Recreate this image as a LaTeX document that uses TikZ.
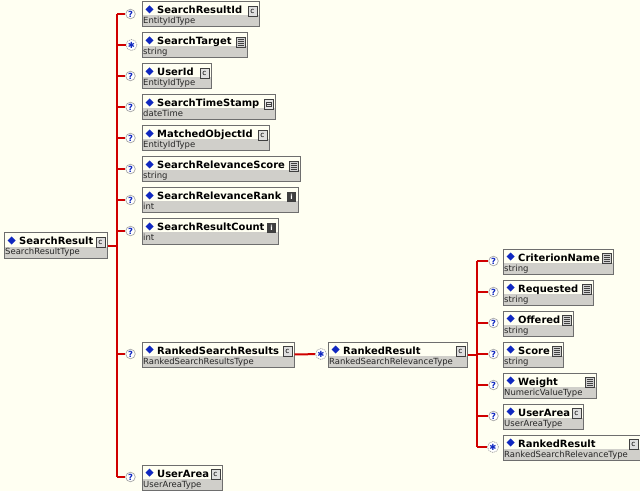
\documentclass[tikz,border=0pt]{standalone}
\usepackage{fontspec}
\setmainfont{DejaVu Sans}
\usetikzlibrary{calc}

\definecolor{bgcol}{HTML}{FFFFF2}
\definecolor{linkred}{HTML}{D00000}
\definecolor{typegray}{HTML}{D0CFCA}
\definecolor{boxedge}{HTML}{6E6E6E}
\definecolor{markblue}{HTML}{1028C0}
\definecolor{icondark}{HTML}{404040}

\tikzset{
  elembox/.style={draw=boxedge, line width=1bp, rectangle, inner sep=0pt,
    minimum height=25bp, anchor=north west},
  namelabel/.style={anchor=base west, inner sep=0pt,
    font=\fontsize{10}{12}\selectfont\bfseries},
  typelabel/.style={anchor=base west, inner sep=0pt,
    font=\fontsize{8.5}{10}\selectfont, text=black!85},
  link/.style={draw=linkred, line width=2bp},
  opticon/.style={circle, draw=gray!70, fill=white, line width=0.7bp,
    minimum size=9.5bp, inner sep=0pt,
    font=\fontsize{8.5}{9}\selectfont\bfseries, text=markblue},
  manyicon/.style={opticon, dash pattern=on 1.2bp off 0.8bp, minimum size=11bp,
    font=\fontsize{8.5}{9}\selectfont\bfseries},
  iconframe/.style={draw=icondark, line width=0.6bp},
}

% type icons, #1 = element id, #2/#3 = top-left corner of the 9x10 icon
\newcommand\iconc[3]{%
  \filldraw[iconframe, fill=gray!25] ({#2},{#3}) rectangle ({#2+9},{#3+10});
  \node[inner sep=0pt, font=\fontsize{7.5}{7.5}\selectfont] (#1-icon)
    at ({#2+4.5},{#3+5.3}) {c};
}
\newcommand\iconstr[3]{%
  \filldraw[iconframe, fill=gray!35] ({#2},{#3}) rectangle ({#2+9},{#3+10});
  \foreach \yy in {2.5,4.5,6.5,8.5}
    \draw[icondark, line width=1bp] ({#2+1.5},{#3+\yy}) -- ({#2+7.5},{#3+\yy});
}
\newcommand\iconint[3]{%
  \fill[icondark] ({#2},{#3}) rectangle ({#2+9},{#3+10});
  \node[inner sep=0pt, text=white, font=\fontsize{7}{7}\selectfont\bfseries] (#1-icon)
    at ({#2+4.5},{#3+5}) {i};
}
\newcommand\icondt[3]{%
  \filldraw[iconframe, fill=gray!20] ({#2},{#3}) rectangle ({#2+9},{#3+10});
  \draw[icondark, line width=0.6bp] ({#2+2},{#3+3}) rectangle ({#2+7},{#3+7.5});
  \draw[icondark, line width=0.5bp] ({#2+2},{#3+5}) -- ({#2+7},{#3+5});
}

% element box: #1 id, #2 left, #3 top, #4 width, #5 name, #6 type, #7 icon kind
\newcommand\elem[7]{%
  \fill[typegray] (#2,{#3+14}) rectangle ({#2+#4},{#3+25});
  \node[elembox, minimum width=#4bp] (#1) at (#2,#3) {};
  \fill[markblue] ({#2+8},{#3+4}) -- ({#2+12},{#3+8}) -- ({#2+8},{#3+12})
    -- ({#2+4},{#3+8}) -- cycle;
  \node[namelabel] (#1-name) at ({#2+15.5},{#3+12.5}) {#5};
  \node[typelabel] (#1-type) at ({#2+1.5},{#3+22.5}) {#6};
  \csname icon#7\endcsname{#1}{#2+#4-10.5}{#3+4.5}
}

\begin{document}
\begin{tikzpicture}[x=1bp, y=-1bp]
  \fill[bgcol] (0,0) rectangle (640,491);
  \useasboundingbox (0,0) rectangle (640,491);

  % root element
  \elem{root}{3.5}{232.5}{103}{SearchResult}{SearchResultType}{c}

  % children of SearchResult
  \elem{sri}{141.5}{1.5}{117}{SearchResultId}{EntityIdType}{c}
  \elem{stg}{141.5}{32.5}{105}{SearchTarget}{string}{str}
  \elem{uid}{141.5}{63.5}{69}{UserId}{EntityIdType}{c}
  \elem{sts}{141.5}{94.5}{133}{SearchTimeStamp}{dateTime}{dt}
  \elem{moi}{141.5}{125.5}{127}{MatchedObjectId}{EntityIdType}{c}
  \elem{srs}{141.5}{156.5}{158}{SearchRelevanceScore}{string}{str}
  \elem{srr}{141.5}{187.5}{156}{SearchRelevanceRank}{int}{int}
  \elem{src}{141.5}{218.5}{136}{SearchResultCount}{int}{int}
  \elem{rsr}{141.5}{341.5}{152}{RankedSearchResults}{RankedSearchResultsType}{c}
  \elem{ua}{141.5}{464.5}{80}{UserArea}{UserAreaType}{c}

  % RankedResult and its children
  \elem{rr}{327.5}{341.5}{139}{RankedResult}{RankedSearchRelevanceType}{c}
  \elem{cn}{502.5}{248.5}{110}{CriterionName}{string}{str}
  \elem{req}{502.5}{279.5}{90}{Requested}{string}{str}
  \elem{off}{502.5}{310.5}{70}{Offered}{string}{str}
  \elem{sc}{502.5}{341.5}{60}{Score}{string}{str}
  \elem{wt}{502.5}{372.5}{93}{Weight}{NumericValueType}{str}
  \elem{ua2}{502.5}{403.5}{80}{UserArea}{UserAreaType}{c}
  \elem{rr2}{502.5}{434.5}{137}{RankedResult}{RankedSearchRelevanceType}{c}

  % occurrence markers
  \node[opticon]  (o-sri) at (130.5,14) {?};
  \node[manyicon] (o-stg) at (131.5,45) {✱};
  \node[opticon]  (o-uid) at (130.5,76) {?};
  \node[opticon]  (o-sts) at (130.5,107) {?};
  \node[opticon]  (o-moi) at (130.5,138) {?};
  \node[opticon]  (o-srs) at (130.5,169) {?};
  \node[opticon]  (o-srr) at (130.5,200) {?};
  \node[opticon]  (o-src) at (130.5,231) {?};
  \node[opticon]  (o-rsr) at (130.5,354) {?};
  \node[opticon]  (o-ua)  at (130.5,477) {?};
  \node[manyicon] (o-rr)  at (321,354) {✱};
  \node[opticon]  (o-cn)  at (493.5,261) {?};
  \node[opticon]  (o-req) at (493.5,292) {?};
  \node[opticon]  (o-off) at (493.5,323) {?};
  \node[opticon]  (o-sc)  at (493.5,354) {?};
  \node[opticon]  (o-wt)  at (493.5,385) {?};
  \node[opticon]  (o-ua2) at (493.5,416) {?};
  \node[manyicon] (o-rr2) at (493,447) {✱};

  % sequence buses
  \coordinate (bus1) at (117,0);
  \coordinate (bus2) at (477,0);

  \draw[link] (root.east) -- (root.east -| bus1);
  \draw[link] (bus1 |- o-sri) -- (bus1 |- o-ua);
  \foreach \c in {sri,stg,uid,sts,moi,srs,srr,src,rsr,ua}
    \draw[link] (bus1 |- o-\c) -- (o-\c);

  \draw[link] (rsr.east) -- (o-rr);
  \draw[link] (rr.east) -- (rr.east -| bus2);
  \draw[link] (bus2 |- o-cn) -- (bus2 |- o-rr2);
  \foreach \c in {cn,req,off,sc,wt,ua2,rr2}
    \draw[link] (bus2 |- o-\c) -- (o-\c);
\end{tikzpicture}
\end{document}
